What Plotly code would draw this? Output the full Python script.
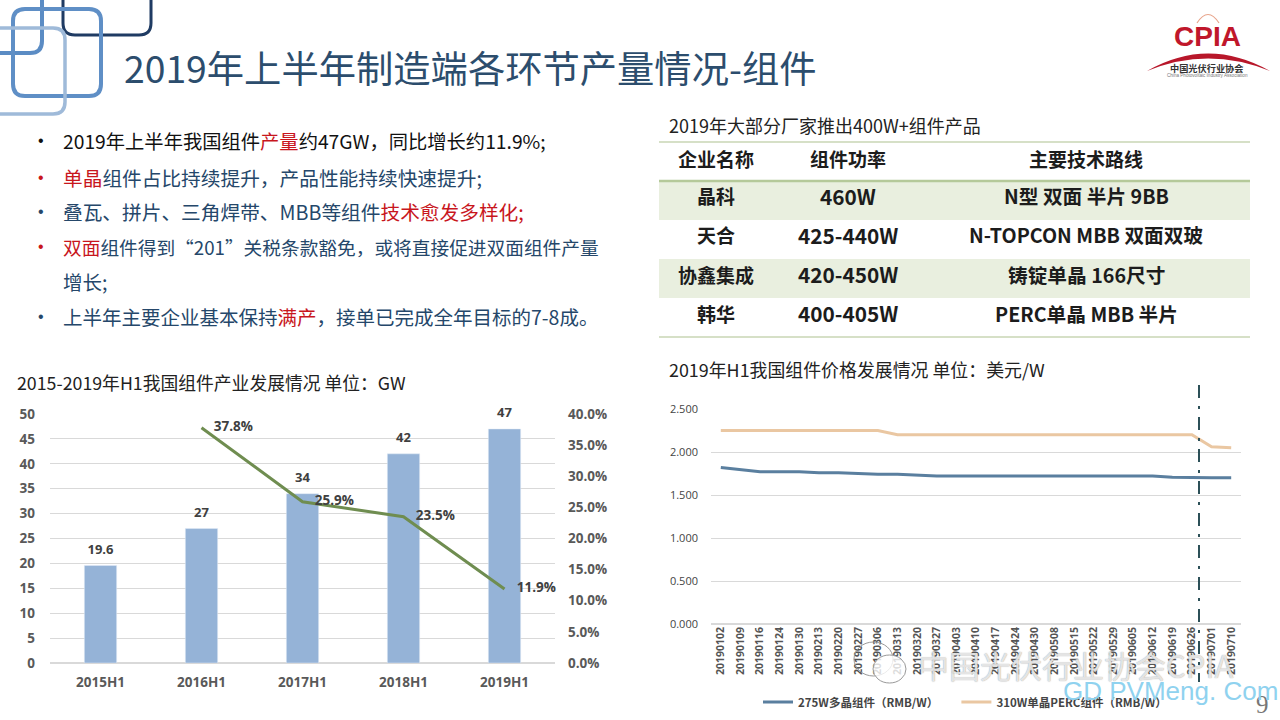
import plotly.graph_objects as go

W, H = 1280, 720
CJK = "Noto Sans CJK SC"

# ---------- data ----------
years = ["2015H1", "2016H1", "2017H1", "2018H1", "2019H1"]
output_gw = [19.6, 27, 34, 42, 47]
growth_pct = [None, 37.8, 25.9, 23.5, 11.9]

dates = ["20190102", "20190109", "20190116", "20190124", "20190130", "20190213", "20190220",
         "20190227", "20190306", "20190313", "20190320", "20190327", "20190403", "20190410",
         "20190417", "20190424", "20190430", "20190508", "20190515", "20190522", "20190529",
         "20190605", "20190612", "20190619", "20190626", "20190701", "20190710"]
poly_275 = [1.82, 1.795, 1.77, 1.77, 1.77, 1.76, 1.76, 1.75, 1.74, 1.74, 1.73, 1.72, 1.72, 1.72,
            1.72, 1.72, 1.72, 1.72, 1.72, 1.72, 1.72, 1.72, 1.72, 1.705, 1.70, 1.70, 1.70]
perc_310 = [2.25, 2.25, 2.25, 2.25, 2.25, 2.25, 2.25, 2.25, 2.25, 2.20, 2.20, 2.20, 2.20, 2.20,
            2.20, 2.20, 2.20, 2.20, 2.20, 2.20, 2.20, 2.20, 2.20, 2.20, 2.20, 2.06, 2.05]

table_head = ["企业名称", "组件功率", "主要技术路线"]
table_company = ["晶科", "天合", "协鑫集成", "韩华"]
table_power = ["460W", "425-440W", "420-450W", "400-405W"]
table_route = ["N型 双面 半片 9BB", "N-TOPCON MBB 双面双玻", "铸锭单晶 166尺寸", "PERC单晶 MBB 半片"]

NAVY, RED = "#25476a", "#c8161d"
bullets = [
    ("#111111", f'2019年上半年我国组件<span style="color:{RED}">产量</span>约47GW，同比增长约11.9%;'),
    (RED, f'<span style="color:{RED}">单晶</span>组件占比持续提升，产品性能持续快速提升;'),
    (NAVY, f'叠瓦、拼片、三角焊带、MBB等组件<span style="color:{RED}">技术愈发多样化;</span>'),
    (RED, f'<span style="color:{RED}">双面</span>组件得到“201”关税条款豁免，或将直接促进双面组件产量'),
    (None, '增长;'),
    (NAVY, f'上半年主要企业基本保持<span style="color:{RED}">满产</span>，接单已完成全年目标的7-8成。'),
]
bullet_y = [141, 177, 211.5, 246.5, 281.5, 316.5]
bullet_size = [19.3, 19.7, 19.7, 18.7, 19.5, 19.5]


def px(x):
    return x / W


def py(y):
    return 1 - y / H


def text(x, y, s, size, color="#222", anchor="left", font=CJK, **kw):
    return dict(x=px(x), y=py(y), xref="paper", yref="paper", text=s, showarrow=False,
                xanchor=anchor, yanchor="middle", align=anchor, borderpad=0,
                font=dict(size=size, color=color, family=font, **kw))


def rrect(x0, y0, x1, y1, r, color, width):
    p = (f"M{px(x0+r)},{py(y0)} L{px(x1-r)},{py(y0)} Q{px(x1)},{py(y0)} {px(x1)},{py(y0+r)} "
         f"L{px(x1)},{py(y1-r)} Q{px(x1)},{py(y1)} {px(x1-r)},{py(y1)} L{px(x0+r)},{py(y1)} "
         f"Q{px(x0)},{py(y1)} {px(x0)},{py(y1-r)} L{px(x0)},{py(y0+r)} Q{px(x0)},{py(y0)} {px(x0+r)},{py(y0)} Z")
    return dict(type="path", path=p, xref="paper", yref="paper", line=dict(color=color, width=width))


def hline(y, color, width, x0=659, x1=1250):
    return dict(type="line", xref="paper", yref="paper", x0=px(x0), x1=px(x1), y0=py(y), y1=py(y),
                line=dict(color=color, width=width))


def band(y0, y1, color, x0=659, x1=1250):
    return dict(type="rect", xref="paper", yref="paper", x0=px(x0), x1=px(x1), y0=py(y1), y1=py(y0),
                fillcolor=color, line=dict(width=0), layer="below")


fig = go.Figure()

# chart 1
fig.add_trace(go.Bar(x=years, y=output_gw, marker_color="#95b3d7", width=0.32,
                     showlegend=False, xaxis="x", yaxis="y"))
fig.add_trace(go.Scatter(x=years, y=output_gw, mode="markers+text", text=[str(v) for v in output_gw],
                         textposition="top center", marker=dict(size=12, opacity=0), cliponaxis=False,
                         textfont=dict(size=13, color="#404040", family="Open Sans", weight="bold"),
                         showlegend=False, xaxis="x", yaxis="y"))
fig.add_trace(go.Scatter(x=years, y=growth_pct, mode="lines+markers+text",
                         text=[None if v is None else f"{v}%" for v in growth_pct],
                         textposition="middle right", marker=dict(size=18, opacity=0), cliponaxis=False,
                         line=dict(color="#6f8d50", width=3),
                         textfont=dict(size=13.5, color="#404040", family="Open Sans", weight="bold"),
                         showlegend=False, xaxis="x", yaxis="y2"))

# chart 2
fig.add_trace(go.Scatter(x=dates, y=poly_275, mode="lines", name="275W多晶组件（RMB/W）\u00a0\u00a0\u00a0\u00a0\u00a0",
                         line=dict(color="#5a7f9f", width=3), xaxis="x2", yaxis="y3"))
fig.add_trace(go.Scatter(x=dates, y=perc_310, mode="lines", name="310W单晶PERC组件（RMB/W）",
                         line=dict(color="#eac7a2", width=3), xaxis="x2", yaxis="y3"))

tick1 = dict(size=13.5, color="#595959", family="Open Sans", weight="bold")
grid = "#d9d9d9"

annotations = [
    text(123, 66.5, "2019年上半年制造端各环节产量情况-组件", 37.3, "#2c4d6d"),
    text(668, 125.5, "2019年大部分厂家推出400W+组件产品", 18, "#222"),
    text(16, 381.5, "2015-2019年H1我国组件产业发展情况 单位：GW", 17.8, "#222"),
    text(668, 369.5, "2019年H1我国组件价格发展情况 单位：美元/W", 17.9, "#222"),
    text(1207, 36, "CPIA", 28, "#c0172b", "center", "Liberation Sans", weight="bold"),
    text(1207, 68, "中国光伏行业协会", 9.2, "#333", "center", weight="bold"),
    text(1207, 76, "China Photovoltaic Industry Association", 4.6, "#777", "center", "Liberation Sans"),
    text(1255, 704, "9", 25, "#777", "left", "Liberation Serif"),
    text(917, 664, "中国光伏行业协会CPIA", 31, "rgba(255,255,255,0.75)", "left", shadow="0 0 1px #666"),
    text(1062, 691, "GD PVMeng. Com", 26, "#8fd2ef", "left", "Liberation Sans"),
]
for (c, s), y, sz in zip(bullets, bullet_y, bullet_size):
    if c:
        annotations.append(text(41, y, "•", 16, c, "center", "Liberation Sans"))
    annotations.append(text(62, y, s, sz, NAVY if c != "#111111" else "#111111"))

col_x = [716, 848, 1086]
col_size = [19, 20.8, 19.7]
row_y = [196, 235, 274, 313]
for cx, sz, head, column in zip(col_x, col_size, table_head, (table_company, table_power, table_route)):
    annotations.append(text(cx, 158, head, 19, "#1c1c1c", "center", weight="bold"))
    for ry, cell in zip(row_y, column):
        annotations.append(text(cx, ry, cell, sz, "#1c1c1c", "center", weight="bold"))

shapes = [
    band(181, 220, "#e9efdf"),
    band(259, 298, "#e9efdf"),
    rrect(63, -20, 151, 35, 12, "#1f3b63", 3),
    rrect(-40, -20, 42, 53, 12, "#5b8cc4", 4),
    rrect(13, 9, 101, 96, 12, "#5f8fc6", 4),
    rrect(-30, 28, 65, 114, 12, "#9fbad9", 3.5),
    hline(142, "#c9d6b4", 1.5),
    hline(181, "#b5c99a", 2.5),
    hline(337, "#c9d6b4", 1.5),
    dict(type="path", xref="paper", yref="paper", fillcolor="#b8172a", line=dict(width=0),
         path=(f"M{px(1147)},{py(71)} Q{px(1208)},{py(36)} {px(1270)},{py(71)} "
               f"Q{px(1208)},{py(46)} {px(1147)},{py(71)} Z")),
    dict(type="path", xref="paper", yref="paper", line=dict(color="#e8a58c", width=1.2),
         path=(f"M{px(1197)},{py(23)} Q{px(1208)},{py(6)} {px(1219)},{py(23)}")),
    dict(type="line", xref="paper", yref="paper", x0=px(1199), x1=px(1199), y0=py(385), y1=py(682),
         line=dict(color="#2c5058", width=2, dash="13px,8px,3px,8px")),
    dict(type="circle", xref="paper", yref="paper", x0=px(854), x1=px(893), y0=py(676), y1=py(642),
         line=dict(color="#999", width=1)),
    dict(type="circle", xref="paper", yref="paper", x0=px(873), x1=px(906), y0=py(683), y1=py(655),
         fillcolor="rgba(255,255,255,0.8)", line=dict(color="#999", width=1)),
]

fig.update_layout(
    width=W, height=H, margin=dict(l=0, r=0, t=0, b=0), autosize=False,
    paper_bgcolor="white", plot_bgcolor="white",
    font=dict(family=CJK),
    annotations=annotations, shapes=shapes,
    xaxis=dict(domain=[px(50), px(555)], anchor="y", tickfont=tick1, showgrid=False, ticks="",
               ticklabelstandoff=9, showline=False, zeroline=False, automargin=False),
    yaxis=dict(domain=[py(663), py(414)], range=[0, 50], dtick=5, tickfont=tick1, gridcolor=grid,
               gridwidth=1, ticklabelstandoff=14, zeroline=True, zerolinecolor=grid, showline=False,
               automargin=False),
    yaxis2=dict(domain=[py(663), py(414)], range=[0, 40], dtick=5, overlaying="y", side="right",
                ticksuffix="%", tickformat=".1f", tickfont=tick1, showgrid=False, zeroline=False,
                ticklabelstandoff=12, showline=False, anchor="x", automargin=False),
    xaxis2=dict(domain=[px(711), px(1241)], anchor="y3", showgrid=False, ticks="", tickangle=-90,
                range=[-0.5, 26.5], tickmode="array", tickvals=dates, ticktext=dates, zeroline=False,
                showline=False, automargin=False,
                tickfont=dict(size=10.5, color="#555", family="Open Sans", weight="bold")),
    yaxis3=dict(domain=[py(624), py(409)], range=[0, 2.5], dtick=0.5, tickformat=".3f", anchor="x2",
                gridcolor=grid, zeroline=True, zerolinecolor=grid, ticklabelstandoff=12, showline=False,
                automargin=False, tickfont=dict(size=11, color="#444", family="Open Sans")),
    legend=dict(orientation="h", x=px(758), y=py(702), xanchor="left", yanchor="middle",
                itemwidth=30, bgcolor="rgba(0,0,0,0)", traceorder="normal",
                font=dict(size=11.5, color="#444", family=CJK, weight="bold")),
)

fig.write_html("out.html", config=dict(displayModeBar=False),
               post_script="document.body.style.margin='0';document.documentElement.style.overflow='hidden';")
